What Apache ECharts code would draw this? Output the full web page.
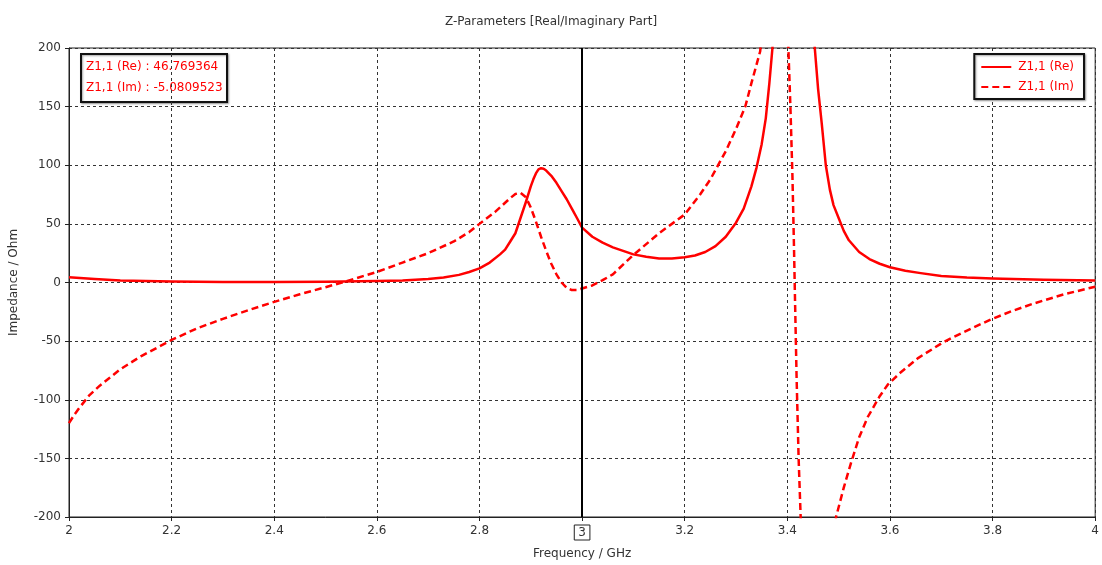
<!DOCTYPE html>
<html>
<head>
<meta charset="utf-8">
<script src="https://cdn.jsdelivr.net/npm/echarts@6/dist/echarts.min.js"></script>
<style>
html,body{margin:0;padding:0;background:#fff;}
#chart{width:1102px;height:565px;}
</style>
</head>
<body>
<div id="chart"></div>
<script>
// ---- data ----
const titleText = 'Z-Parameters [Real/Imaginary Part]';
const xAxisName = 'Frequency / GHz';
const yAxisName = 'Impedance / Ohm';
const seriesNames = ['Z1,1 (Re)', 'Z1,1 (Im)'];
const markerFreq = 3;
const markerTexts = ['Z1,1 (Re) : 46.769364', 'Z1,1 (Im) : -5.0809523'];

const reFreq = [2.0, 2.05, 2.1, 2.15, 2.2, 2.3, 2.4, 2.5, 2.6, 2.65, 2.7, 2.73, 2.76, 2.78, 2.8, 2.82, 2.84, 2.85, 2.86, 2.87, 2.88, 2.89, 2.9, 2.905, 2.91, 2.915, 2.92, 2.925, 2.93, 2.94, 2.95, 2.96, 2.97, 2.98, 2.99, 3.0, 3.02, 3.04, 3.06, 3.08, 3.1, 3.125, 3.15, 3.175, 3.2, 3.22, 3.24, 3.26, 3.28, 3.3, 3.315, 3.33, 3.34, 3.35, 3.358, 3.365, 3.371, 3.385, 3.41, 3.44, 3.4535, 3.46, 3.467, 3.475, 3.483, 3.49, 3.5, 3.51, 3.52, 3.54, 3.56, 3.58, 3.6, 3.63, 3.66, 3.7, 3.75, 3.8, 3.9, 4.0];
const reVal  = [4.4, 3.0, 1.8, 1.2, 0.8, 0.5, 0.4, 0.6, 1.2, 1.8, 3, 4.2, 6.5, 9, 12, 17, 24, 28, 35, 42, 55, 68, 82, 88, 93, 96.5, 97.5, 97, 95.5, 91, 85, 78, 71, 63, 55, 46.77, 39, 34, 30, 27, 24, 22, 20.5, 20.5, 21.5, 23, 26, 31, 39, 51, 63, 82, 98, 118, 140, 170, 200, 300, 500, 300, 200, 165, 136, 100, 79, 66, 55, 44, 36, 26, 20, 16, 13, 10, 8, 5.5, 4.2, 3.5, 2.3, 1.6];

const imFreq = [2.0, 2.01, 2.02, 2.04, 2.06, 2.08, 2.1, 2.14, 2.2, 2.25, 2.3, 2.35, 2.4, 2.45, 2.5, 2.54, 2.6, 2.65, 2.7, 2.75, 2.78, 2.8, 2.83, 2.85, 2.86, 2.87, 2.88, 2.89, 2.9, 2.91, 2.92, 2.93, 2.94, 2.95, 2.96, 2.97, 2.98, 2.99, 3.0, 3.02, 3.04, 3.06, 3.1, 3.15, 3.2, 3.23, 3.25, 3.28, 3.3, 3.318, 3.33, 3.347, 3.36, 3.38, 3.395, 3.402, 3.406, 3.41, 3.413, 3.415, 3.418, 3.422, 3.426, 3.44, 3.46, 3.48, 3.495, 3.51, 3.524, 3.54, 3.557, 3.58, 3.596, 3.62, 3.654, 3.7, 3.719, 3.76, 3.797, 3.84, 3.881, 3.94, 4.0];
const imVal  = [-120, -113, -107, -96, -88, -81, -74, -63, -49, -39, -31, -23.5, -16.5, -10, -4, 1, 9, 17, 25, 35, 43, 50, 60, 68, 72, 75.5, 76.5, 73, 64, 52, 39, 27, 16, 7, 0, -4.5, -6.5, -6.5, -5.08, -2.5, 2, 7, 23.5, 42, 58, 75, 88, 112, 131, 150, 170, 197, 250, 350, 500, 200, 150, 90, 30, -15, -80, -150, -200, -320, -350, -260, -200, -175, -154, -132, -114.5, -97, -87, -77, -64.7, -52, -47.6, -39, -31.4, -24, -17.8, -10, -3.6];

const xMin = 2, xMax = 4, xStep = 0.2;
const yMin = -200, yMax = 200, yStep = 50;

// ---- chart ----
const FONT = 'DejaVu Sans';
const RED = '#ff0000';
const pairs = (xs, ys) => xs.map((x, i) => [x, ys[i]]);

const chart = echarts.init(document.getElementById('chart'), null, {renderer: 'canvas'});
chart.setOption({
  animation: false,
  backgroundColor: '#ffffff',
  textStyle: {fontFamily: FONT},
  title: {
    text: titleText, left: 'center', top: 11,
    textStyle: {fontFamily: FONT, fontSize: 12, fontWeight: 'normal', color: '#333'}
  },
  grid: {left: 67, right: 4, top: 48, bottom: 48, show: true, borderColor: '#222', borderWidth: 1, backgroundColor: 'transparent'},
  legend: {
    right: 18, top: 54, orient: 'vertical',
    data: seriesNames,
    itemWidth: 30, itemHeight: 12, itemGap: 8,
    padding: [7, 10, 6, 6],
    borderColor: '#111', borderWidth: 2, backgroundColor: '#fff',
    shadowColor: 'rgba(0,0,0,0.35)', shadowBlur: 2, shadowOffsetX: 1, shadowOffsetY: 1,
    itemStyle: {opacity: 0},
    textStyle: {fontFamily: FONT, fontSize: 12, color: RED, padding: [0, 0, 0, 2]}
  },
  xAxis: {
    type: 'value', min: xMin, max: xMax, interval: xStep,
    name: xAxisName, nameLocation: 'middle', nameGap: 31,
    nameTextStyle: {fontFamily: FONT, fontSize: 12, color: '#333'},
    axisLine: {show: true, onZero: false, lineStyle: {color: '#222', width: 1}},
    axisTick: {show: true, length: 4, lineStyle: {color: '#222'}},
    axisLabel: {
      margin: 8, fontFamily: FONT, fontSize: 12, color: '#333',
      formatter: function (v) {
        const t = String(parseFloat(v.toFixed(1)));
        return Math.abs(v - markerFreq) < 1e-9 ? '{box|' + t + '}' : t;
      },
      rich: {box: {fontFamily: FONT, fontSize: 12, color: '#333', borderColor: '#222', borderWidth: 1, padding: [2, 4, 1, 4]}}
    },
    splitLine: {show: true, lineStyle: {color: '#333', type: [3, 3], width: 1}}
  },
  yAxis: {
    type: 'value', min: yMin, max: yMax, interval: yStep,
    name: yAxisName, nameLocation: 'middle', nameGap: 49, nameRotate: 90,
    nameTextStyle: {fontFamily: FONT, fontSize: 12, color: '#333'},
    axisLine: {show: true, lineStyle: {color: '#222', width: 1}},
    axisTick: {show: true, length: 4, lineStyle: {color: '#222'}},
    axisLabel: {margin: 8, fontFamily: FONT, fontSize: 12, color: '#333'},
    splitLine: {show: true, lineStyle: {color: '#333', type: [3, 3], width: 1}}
  },
  series: [
    {
      name: seriesNames[0], type: 'line', data: pairs(reFreq, reVal),
      showSymbol: false, symbol: 'none', smooth: false, clip: true,
      lineStyle: {color: RED, width: 2.5, type: 'solid', join: 'round'}, itemStyle: {color: RED},
      z: 3,
      markLine: {
        silent: true, symbol: ['none', 'none'], label: {show: false},
        lineStyle: {color: '#000', width: 2, type: 'solid'},
        data: [{xAxis: markerFreq}], animation: false
      }
    },
    {
      name: seriesNames[1], type: 'line', data: pairs(imFreq, imVal),
      showSymbol: false, symbol: 'none', smooth: false, clip: true,
      lineStyle: {color: RED, width: 2.5, type: [7, 4], join: 'round'}, itemStyle: {color: RED},
      z: 3
    }
  ],
  graphic: [{
    type: 'group', left: 80, top: 53, z: 100,
    children: [
      {type: 'rect', shape: {x: 0, y: 0, width: 146, height: 48},
       style: {fill: '#fff', stroke: '#111', lineWidth: 2, shadowColor: 'rgba(0,0,0,0.35)', shadowBlur: 2, shadowOffsetX: 1, shadowOffsetY: 1}},
      {type: 'text', x: 5, y: 7, style: {text: markerTexts[0], fill: RED, font: '12px "DejaVu Sans"'}},
      {type: 'text', x: 5, y: 28, style: {text: markerTexts[1], fill: RED, font: '12px "DejaVu Sans"'}}
    ]
  }]
});
</script>
</body>
</html>
